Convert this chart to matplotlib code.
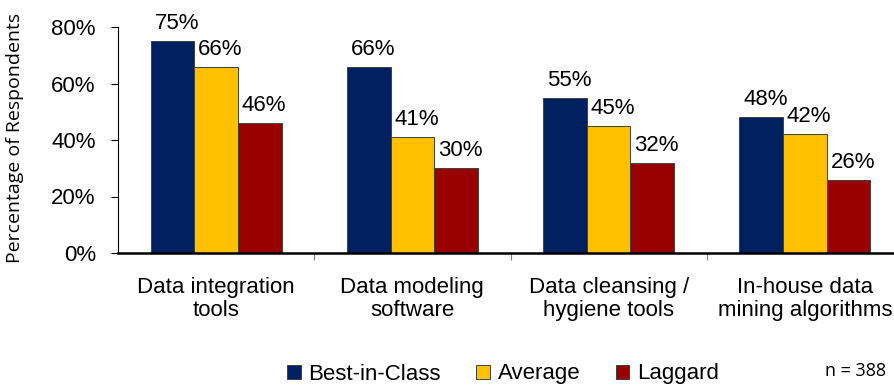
import matplotlib
matplotlib.use("Agg")
import matplotlib.pyplot as plt
from matplotlib.patches import Patch
import numpy as np

categories = ["Data integration\ntools", "Data modeling\nsoftware",
              "Data cleansing /\nhygiene tools", "In-house data\nmining algorithms"]
series_names = ["Best-in-Class", "Average", "Laggard"]
best = [75, 66, 55, 48]
average = [66, 41, 45, 42]
laggard = [46, 30, 32, 26]
yticks = [0, 20, 40, 60, 80]
ytick_labels = ["0%", "20%", "40%", "60%", "80%"]
colors = ["#002060", "#FFC000", "#990000"]

plt.rcParams['font.family'] = ['Liberation Sans', 'DejaVu Sans']

fig = plt.figure(figsize=(8.94, 3.87), dpi=100)
ax = fig.add_axes([118/894, 1-253/387, (903-118)/894, (253-27)/387])

x = np.arange(len(categories))
w = 0.2225
for i, (vals, name) in enumerate(zip([best, average, laggard], series_names)):
    bars = ax.bar(x + (i-1)*w, vals, width=w, color=colors[i], edgecolor="#404040",
                  linewidth=0.7, label=name, zorder=2)
    for rect, v in zip(bars, vals):
        ax.annotate(f"{v}%", (rect.get_x() + rect.get_width()/2, rect.get_height()),
                    xytext=(3, 5), textcoords='offset points', ha='center', va='bottom',
                    fontsize=16)

ax.set_xlim(-0.5, 3.5)
ax.set_ylim(0, 80)
ax.set_yticks(yticks)
ax.set_yticklabels(ytick_labels, fontsize=16)
ax.set_xticks(x)
ax.set_xticklabels(categories, fontsize=16, linespacing=1.17)
ax.set_xticks([0.5, 1.5, 2.5], minor=True)
ax.tick_params(axis='x', which='major', length=0, pad=17)
ax.tick_params(axis='x', which='minor', length=5, color='#808080', width=0.8, direction='out')
ax.tick_params(axis='y', length=5, width=0.8, direction='out', pad=11)

for s in ['top', 'right']:
    ax.spines[s].set_visible(False)
ax.spines['bottom'].set_linewidth(1.8)
ax.spines['left'].set_linewidth(0.8)
ax.spines['bottom'].set_zorder(3)

fig.text(15/894, 1-138/387, "Percentage of Respondents", rotation=90, ha='center', va='center',
         fontsize=14, family=['Open Sans', 'DejaVu Sans'])

handles = [Patch(facecolor=c, edgecolor="#404040", linewidth=0.7) for c in colors]
fig.legend(handles, series_names, loc='center', bbox_to_anchor=(503/894, 1-374/387), ncol=3,
           frameon=False, fontsize=16, handlelength=0.6, handleheight=0.6,
           handletextpad=0.35, columnspacing=1.6, borderpad=0)

fig.text(886/894, 1-371/387, "n = 388", ha='right', va='center', fontsize=13,
         family=['Open Sans', 'DejaVu Sans'])

fig.savefig("out.png", dpi=100)
